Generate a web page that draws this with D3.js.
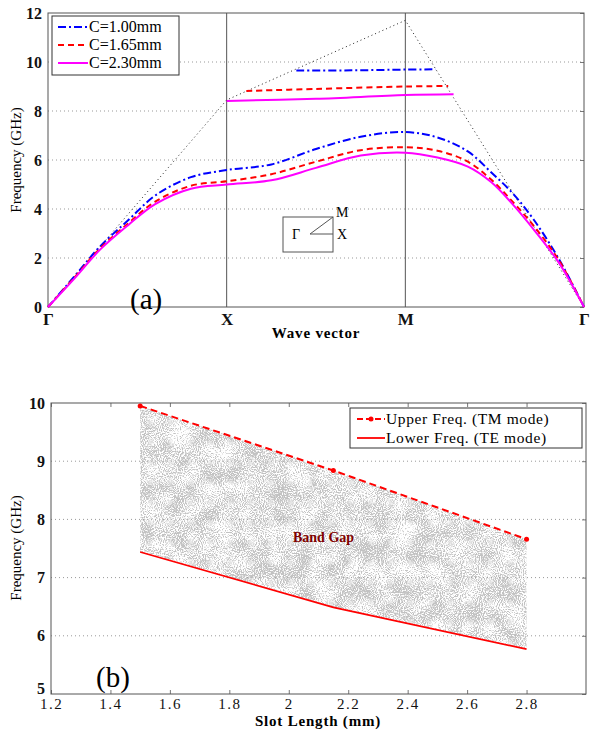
<!DOCTYPE html>
<html>
<head>
<meta charset="utf-8">
<script src="https://cdn.jsdelivr.net/npm/d3@7"></script>
<style>
  body { margin: 0; background: #fff; }
  svg { display: block; font-family: "Liberation Serif", "Times New Roman", serif; }
</style>
</head>
<body>
<svg id="fig" width="590" height="731"></svg>
<script>
// ---- (a) band diagram data ----
const symLabels = ["\u0393", "X", "M", "\u0393"];
const freqTicksA = [0, 2, 4, 6, 8, 10, 12];
const lightK = [0, 1, 2, 3];
const lightF = [0, 8.45, 11.7, 0];

const bandK = [0, 0.15, 0.29, 0.45, 0.6, 0.8, 1.0, 1.25, 1.5, 1.75, 2.0, 2.18, 2.35, 2.48, 2.6, 2.72, 2.86, 3.0];
const lowC100 = [0, 1.27, 2.46, 3.55, 4.55, 5.3, 5.59, 5.82, 6.45, 6.95, 7.14, 6.92, 6.35, 5.5, 4.65, 3.55, 1.95, 0];
const lowC165 = [0, 1.22, 2.38, 3.42, 4.3, 4.95, 5.13, 5.42, 5.93, 6.4, 6.52, 6.38, 5.93, 5.2, 4.3, 3.3, 1.9, 0];
const lowC230 = [0, 1.18, 2.33, 3.35, 4.2, 4.83, 5.0, 5.17, 5.68, 6.18, 6.3, 6.1, 5.73, 5.1, 4.2, 3.15, 1.8, 0];

const upC100K = [1.39, 1.7, 2.0, 2.17];
const upC100 = [9.65, 9.66, 9.69, 9.70];
const upC165K = [1.11, 1.5, 2.0, 2.24];
const upC165 = [8.82, 8.9, 9.0, 9.02];
const upC230K = [1.0, 1.5, 2.0, 2.27];
const upC230 = [8.41, 8.5, 8.65, 8.68];

const seriesNames = ["C=1.00mm", "C=1.65mm", "C=2.30mm"];

// ---- (b) band gap vs slot length ----
const slotLen = [1.5, 2.15, 2.8];
const upperTM = [9.95, 8.84, 7.66];
const lowerTE = [7.44, 6.49, 5.77];
const slotTicks = [1.2, 1.4, 1.6, 1.8, 2, 2.2, 2.4, 2.6, 2.8];
const freqTicksB = [5, 6, 7, 8, 9, 10];

const svg = d3.select("#fig");
const zip = (xs, ys) => xs.map((x, i) => [x, ys[i]]);
const fmt = d3.format("");

// speckled grey texture for the band gap
const defs = svg.append("defs");
const filt = defs.append("filter").attr("id", "speckle")
  .attr("x", 0).attr("y", 0).attr("width", "100%").attr("height", "100%")
  .attr("color-interpolation-filters", "sRGB");
filt.append("feTurbulence").attr("type", "fractalNoise").attr("baseFrequency", 0.95)
  .attr("numOctaves", 1).attr("seed", 3).attr("result", "n1");
filt.append("feColorMatrix").attr("in", "n1").attr("type", "matrix")
  .attr("values", "1 0 0 0 0  1 0 0 0 0  1 0 0 0 0  0 0 0 0 1").attr("result", "c1");
filt.append("feTurbulence").attr("type", "fractalNoise").attr("baseFrequency", 0.05)
  .attr("numOctaves", 2).attr("seed", 11).attr("result", "n2");
filt.append("feColorMatrix").attr("in", "n2").attr("type", "matrix")
  .attr("values", "1 0 0 0 0  1 0 0 0 0  1 0 0 0 0  0 0 0 0 1").attr("result", "c2");
filt.append("feComposite").attr("in", "c1").attr("in2", "c2").attr("operator", "arithmetic")
  .attr("k1", 0).attr("k2", 1).attr("k3", 0.4).attr("k4", 0).attr("result", "s");
filt.append("feColorMatrix").attr("in", "s").attr("type", "matrix")
  .attr("values", "0 0 0 0 0.76  0 0 0 0 0.76  0 0 0 0 0.76  5 0 0 0 -3.1").attr("result", "g");
filt.append("feComposite").attr("in", "g").attr("in2", "SourceGraphic").attr("operator", "in");

// ================= panel (a) =================
const ma = {left: 48, top: 13, w: 536, h: 294};
const ga = svg.append("g").attr("transform", `translate(${ma.left},${ma.top})`);
const xa = d3.scaleLinear().domain([0, 3]).range([0, ma.w]);
const ya = d3.scaleLinear().domain([0, 12]).range([ma.h, 0]);

ga.selectAll(".gy").data(freqTicksA.slice(1, -1)).join("line")
  .attr("x1", 0).attr("x2", ma.w).attr("y1", d => ya(d)).attr("y2", d => ya(d))
  .attr("stroke", "#999").attr("stroke-width", 1).attr("stroke-dasharray", "1,3");
ga.selectAll(".gx").data([1, 2]).join("line")
  .attr("x1", d => xa(d)).attr("x2", d => xa(d)).attr("y1", 0).attr("y2", ma.h)
  .attr("stroke", "#555").attr("stroke-width", 1);

const axL = ga.append("g").call(d3.axisLeft(ya).tickValues(freqTicksA).tickSize(0).tickPadding(6).tickFormat(fmt));
const axR = ga.append("g").attr("transform", `translate(${ma.w},0)`)
  .call(d3.axisLeft(ya).tickValues(freqTicksA).tickSize(4).tickFormat(""));
const axB = ga.append("g").attr("transform", `translate(0,${ma.h})`)
  .call(d3.axisBottom(xa).tickValues([0, 1, 2, 3]).tickSize(0).tickPadding(6).tickFormat((d, i) => symLabels[i]));
ga.append("rect").attr("width", ma.w).attr("height", ma.h).attr("fill", "none").attr("stroke", "#555");
[axL, axR, axB].forEach(a => a.select(".domain").remove());
[axL, axR, axB].forEach(a => a.attr("font-family", null));
axL.selectAll("text").attr("font-size", 16).attr("font-weight", "bold").attr("fill", "#111");
axB.selectAll("text").attr("font-size", 17).attr("font-weight", "bold").attr("fill", "#111");
axR.selectAll("line").attr("stroke", "#777");

const lineA = d3.line().x(d => xa(d[0])).y(d => ya(d[1]));
const lineSmooth = d3.line().x(d => xa(d[0])).y(d => ya(d[1])).curve(d3.curveCatmullRom.alpha(0.5));

ga.append("path").attr("d", lineA(zip(lightK, lightF)))
  .attr("fill", "none").attr("stroke", "#222").attr("stroke-width", 1).attr("stroke-dasharray", "1,3");

const styles = [
  {color: "#0000ff", dash: "8,3,2,3"},
  {color: "#ff0000", dash: "6,4"},
  {color: "#ff00ff", dash: null}
];
const lows = [lowC100, lowC165, lowC230];
const ups = [[upC100K, upC100], [upC165K, upC165], [upC230K, upC230]];
lows.forEach((f, i) => {
  ga.append("path").attr("d", lineSmooth(zip(bandK, f)))
    .attr("fill", "none").attr("stroke", styles[i].color).attr("stroke-width", 2)
    .attr("stroke-dasharray", styles[i].dash);
  ga.append("path").attr("d", lineSmooth(zip(ups[i][0], ups[i][1])))
    .attr("fill", "none").attr("stroke", styles[i].color).attr("stroke-width", 2)
    .attr("stroke-dasharray", styles[i].dash);
});

// legend (a)
const lgA = ga.append("g").attr("transform", "translate(4,3)");
lgA.append("rect").attr("width", 127).attr("height", 59).attr("fill", "#fff").attr("stroke", "#333");
seriesNames.forEach((s, i) => {
  const yy = 11 + i * 18;
  lgA.append("line").attr("x1", 6).attr("x2", 36).attr("y1", yy).attr("y2", yy)
    .attr("stroke", styles[i].color).attr("stroke-width", 2).attr("stroke-dasharray", styles[i].dash);
  lgA.append("text").attr("x", 37).attr("y", yy + 5).attr("font-size", 16).text(s);
});

// inset Brillouin zone
const ins = ga.append("g").attr("transform", "translate(235,204)");
ins.append("rect").attr("width", 50).attr("height", 35).attr("fill", "none").attr("stroke", "#555");
ins.append("path").attr("d", "M27,17 L50,0 M27,17 L50,17").attr("stroke", "#555").attr("fill", "none");
ins.append("text").attr("x", 9).attr("y", 22).attr("font-size", 14).text("\u0393");
ins.append("text").attr("x", 53).attr("y", 0).attr("font-size", 14).text("M");
ins.append("text").attr("x", 54).attr("y", 22).attr("font-size", 14).text("X");

ga.append("text").attr("x", 82).attr("y", 296).attr("font-size", 29).text("(a)");
svg.append("text").attr("x", 316).attr("y", 338).attr("text-anchor", "middle")
  .attr("font-size", 15).attr("font-weight", "bold").attr("letter-spacing", 0.8).text("Wave vector");
svg.append("text").attr("transform", "translate(21,160) rotate(-90)").attr("text-anchor", "middle")
  .attr("font-size", 15).text("Frequency (GHz)");

// ================= panel (b) =================
const mb = {left: 51, top: 403, w: 535, h: 291};
const gb = svg.append("g").attr("transform", `translate(${mb.left},${mb.top})`);
const xb = d3.scaleLinear().domain([1.2, 3.0]).range([0, mb.w]);
const yb = d3.scaleLinear().domain([5, 10]).range([mb.h, 0]);

gb.selectAll(".gy").data(freqTicksB.slice(1, -1)).join("line")
  .attr("x1", 0).attr("x2", mb.w).attr("y1", d => yb(d)).attr("y2", d => yb(d))
  .attr("stroke", "#999").attr("stroke-width", 1).attr("stroke-dasharray", "1,3");

const area = d3.area().x(d => xb(d[0])).y0(d => yb(d[2])).y1(d => yb(d[1]));
gb.append("path").attr("d", area(slotLen.map((x, i) => [x, upperTM[i], lowerTE[i]])))
  .attr("fill", "#fff").attr("filter", "url(#speckle)");

const bL = gb.append("g").call(d3.axisLeft(yb).tickValues(freqTicksB).tickSize(0).tickPadding(6).tickFormat(fmt));
const bR = gb.append("g").attr("transform", `translate(${mb.w},0)`)
  .call(d3.axisLeft(yb).tickValues(freqTicksB).tickSize(4).tickFormat(""));
const bB = gb.append("g").attr("transform", `translate(0,${mb.h})`)
  .call(d3.axisTop(xb).tickValues(slotTicks).tickSize(4).tickFormat(""));
const bB2 = gb.append("g").attr("transform", `translate(0,${mb.h})`)
  .call(d3.axisBottom(xb).tickValues(slotTicks).tickSize(0).tickPadding(4).tickFormat(fmt));
const bT = gb.append("g").call(d3.axisBottom(xb).tickValues(slotTicks).tickSize(4).tickFormat(""));
gb.append("rect").attr("width", mb.w).attr("height", mb.h).attr("fill", "none").attr("stroke", "#555");
[bL, bR, bB, bB2, bT].forEach(a => a.select(".domain").remove());
[bL, bR, bB, bB2, bT].forEach(a => a.attr("font-family", null));
[bR, bB, bT].forEach(a => a.selectAll("line").attr("stroke", "#777"));
bL.selectAll("text").attr("font-size", 16).attr("font-weight", "bold").attr("fill", "#111")
  .attr("dy", d => d === 5 ? "-0.05em" : "0.32em");
bB2.selectAll("text").attr("font-size", 15).attr("letter-spacing", 1.5).attr("fill", "#111");

const lineB = d3.line().x(d => xb(d[0])).y(d => yb(d[1]));
gb.append("path").attr("d", lineB(zip(slotLen, lowerTE)))
  .attr("fill", "none").attr("stroke", "#ff0000").attr("stroke-width", 1.8);
gb.append("path").attr("d", lineB(zip(slotLen, upperTM)))
  .attr("fill", "none").attr("stroke", "#ff0000").attr("stroke-width", 2).attr("stroke-dasharray", "7,4");
gb.selectAll(".mk").data(zip(slotLen, upperTM)).join("circle")
  .attr("cx", d => xb(d[0])).attr("cy", d => yb(d[1])).attr("r", 2.5).attr("fill", "#ff0000");

gb.append("text").attr("x", 242).attr("y", 139).attr("font-size", 14).attr("font-weight", "bold")
  .attr("fill", "#800000").text("Band Gap");

// legend (b)
const lgB = gb.append("g").attr("transform", "translate(299,5)");
lgB.append("rect").attr("width", 232).attr("height", 40).attr("fill", "#fff").attr("stroke", "#333");
lgB.append("line").attr("x1", 7).attr("x2", 35).attr("y1", 11).attr("y2", 11)
  .attr("stroke", "#ff0000").attr("stroke-width", 2).attr("stroke-dasharray", "6,3");
lgB.append("circle").attr("cx", 21).attr("cy", 11).attr("r", 2.5).attr("fill", "#ff0000");
lgB.append("text").attr("x", 36).attr("y", 16).attr("font-size", 15.5).attr("letter-spacing", 0.6).text("Upper Freq. (TM mode)");
lgB.append("line").attr("x1", 7).attr("x2", 35).attr("y1", 30).attr("y2", 30)
  .attr("stroke", "#ff0000").attr("stroke-width", 1.8);
lgB.append("text").attr("x", 36).attr("y", 35).attr("font-size", 15.5).attr("letter-spacing", 0.6).text("Lower Freq. (TE mode)");

gb.append("text").attr("x", 45).attr("y", 284).attr("font-size", 29).text("(b)");
svg.append("text").attr("x", 318).attr("y", 726).attr("text-anchor", "middle")
  .attr("font-size", 15).attr("font-weight", "bold").attr("letter-spacing", 0.8).text("Slot Length (mm)");
svg.append("text").attr("transform", "translate(21,548) rotate(-90)").attr("text-anchor", "middle")
  .attr("font-size", 15).text("Frequency (GHz)");
</script>
</body>
</html>
